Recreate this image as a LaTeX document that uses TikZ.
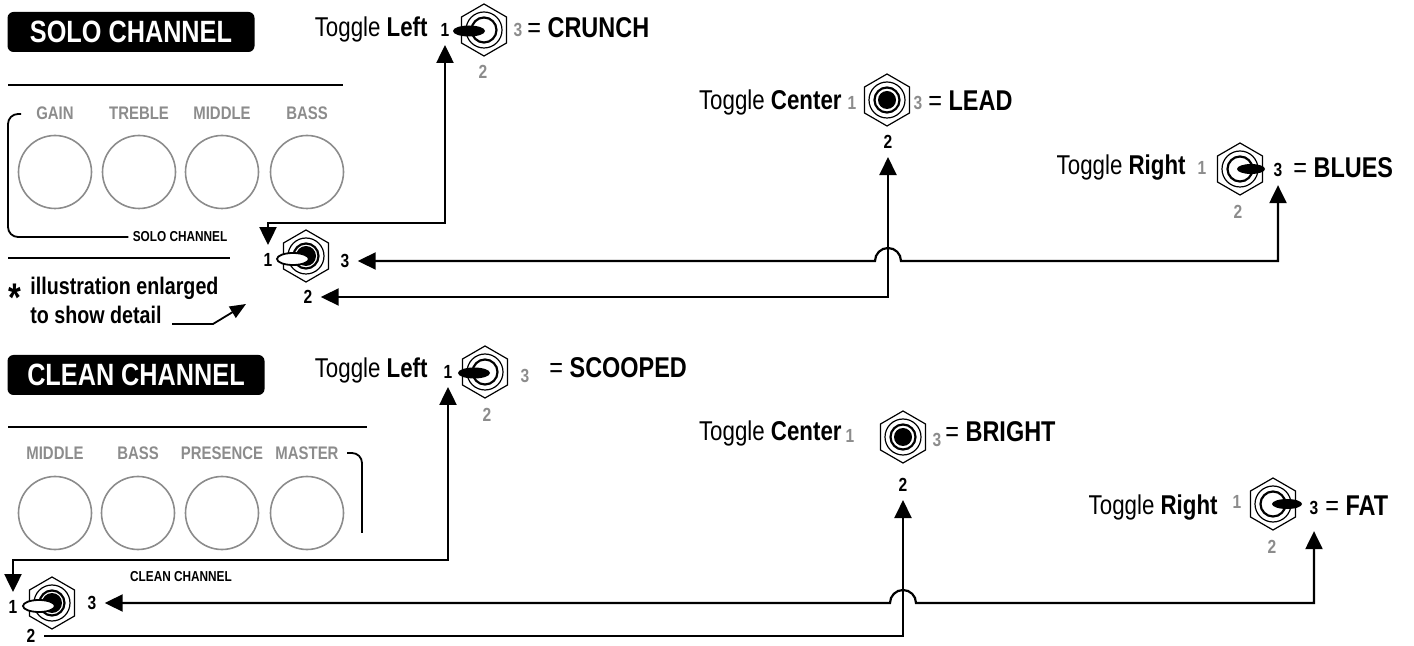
\documentclass[tikz,border=0pt]{standalone}
\usepackage{fontspec}
\setmainfont{Liberation Sans}[FakeStretch=0.82]
\usetikzlibrary{arrows.meta}
\definecolor{knobgray}{HTML}{8C8C8C}

\begin{document}
\begin{tikzpicture}[x=0.5pt,y=-0.5pt]
	    \tikzset{
			title/.style={fill=black, text=white, rounded corners=3pt, inner sep=0pt, minimum width=123.5pt, minimum height=20pt, font=\bfseries\fontsize{15.4}{15.4}\selectfont},
			knoblabel/.style={text=knobgray, inner sep=1pt, font=\bfseries\fontsize{9.1}{9.1}\selectfont},
			knob/.style={draw=knobgray, circle, line width=0.8pt, minimum size=36.5pt, inner sep=0pt},
			tag/.style={inner sep=2pt, font=\bfseries\fontsize{7.2}{7.2}\selectfont},
			toggle/.style={anchor=base east, inner sep=0pt, font=\fontsize{13.6}{13.6}\selectfont},
			result/.style={anchor=base west, inner sep=0pt, font=\fontsize{14.3}{14.3}\selectfont},
			note/.style={anchor=base west, inner sep=0pt, font=\bfseries\fontsize{12}{12}\selectfont},
			num/.style={inner sep=4pt, font=\bfseries\fontsize{9.5}{9.5}\selectfont},
			numg/.style={num, text=knobgray},
			rule/.style={line width=1.1pt},
			bracket/.style={line width=0.9pt, rounded corners=5pt},
			link/.style={line width=1.1pt, <->, >={Triangle[length=9pt,width=8.5pt]}},
			linkin/.style={link, <-},
			pointer/.style={line width=0.9pt, ->, >={Triangle[length=8pt,width=6.5pt]}}
	    }
	    \useasboundingbox (0,0) rectangle (1414,646);

	    % solo channel panel
	    \draw node[title] (soloTitle) at (131,32) {SOLO CHANNEL};
	    \draw[rule] (8,85) -- (343,85);
	    \foreach \x/\t [count=\i] in {55/GAIN,139/TREBLE,222/MIDDLE,307/BASS}{
	        \draw node[knoblabel] (sl\i) at (\x,113) {\t};
	        \draw node[knob] (sk\i) at (\x,172) {};
	    }
	    \draw node[tag] (soloTag) at (180,237) {SOLO CHANNEL};
	    \draw[bracket] (21,114) -- (8,114) -- (8,237) -- (soloTag.west);
	    \draw[rule] (8,258) -- (230,258);
	    \draw node[anchor=base, inner sep=0pt, font=\bfseries\fontsize{20}{20}\selectfont] (star) at (15,312) {*};
	    \draw node[note] (illus) at (30,295) {illustration enlarged};
	    \draw node[note] (detail) at (30,324) {to show detail};
	    \coordinate (enlarged) at (246,304);
	    \draw[pointer] ([xshift=5pt]detail.base east) -- ++(41,0) -- (enlarged);

	    % clean channel panel
	    \draw node[title, minimum width=128.5pt] (cleanTitle) at (136,375) {CLEAN CHANNEL};
	    \draw[rule] (8,427) -- (367,427);
	    \foreach \x/\t [count=\i] in {55/MIDDLE,138/BASS,222/PRESENCE,307/MASTER}{
	        \draw node[knoblabel] (cl\i) at (\x,453) {\t};
	        \draw node[knob] (ck\i) at (\x,513) {};
	    }
	    \draw[bracket] (347,453) -- (362,453) -- (362,533);
	    \draw node[tag] (cleanTag) at (181,577) {CLEAN CHANNEL};

	    % hex nuts
	    \foreach \x/\y in {484/30,887/100,1240/169,306/256,485/372,903/437,1273/504,52/603}{
	        \draw[line width=0.6pt] (\x,\y) ++(0,-26) -- ++(22.5,13) -- ++(0,26) -- ++(-22.5,13) -- ++(-22.5,-13) -- ++(0,-26) -- cycle;
	        \draw[line width=0.6pt] (\x,\y) circle[radius=18];
	        \draw[line width=1.1pt] (\x,\y) circle[radius=12.5];
	    }
	    % levers
	    \fill (469,31) ellipse[x radius=16, y radius=5.5];
	    \fill (887,100) circle[radius=9];
	    \fill (1251,169) ellipse[x radius=14, y radius=5];
	    \fill (474,373) ellipse[x radius=16, y radius=5.5];
	    \fill (903,437) circle[radius=9];
	    \fill (1287,504) ellipse[x radius=15, y radius=5];
	    \fill (306,256) circle[radius=10];
	    \filldraw[fill=white, line width=0.9pt] (293,259) ellipse[x radius=16, y radius=6];
	    \fill (52,603) circle[radius=10];
	    \filldraw[fill=white, line width=0.9pt] (39,606) ellipse[x radius=16, y radius=6];

	    % solo toggles
	    \draw node[toggle] (sLtext) at (428,37) {Toggle \textbf{Left}};
	    \draw node[num] (sL1) at (445,30) {1};
	    \draw node[numg] (sL3) at (518,30) {3};
	    \draw node[numg] (sL2) at (483,72) {2};
	    \draw node[result] (sLres) at (527,38) {= \textbf{CRUNCH}};

	    \draw node[toggle] (sCtext) at (842,110) {Toggle \textbf{Center}};
	    \draw node[numg] (sC1) at (852,103) {1};
	    \draw node[numg] (sC3) at (918,103) {3};
	    \draw node[num] (sC2) at (888,142) {2};
	    \draw node[result] (sCres) at (928,111) {= \textbf{LEAD}};

	    \draw node[toggle] (sRtext) at (1186,175) {Toggle \textbf{Right}};
	    \draw node[numg] (sR1) at (1202,168) {1};
	    \draw node[num] (sR3) at (1278,170) {3};
	    \draw node[numg] (sR2) at (1238,212) {2};
	    \draw node[result] (sRres) at (1293,178) {= \textbf{BLUES}};

	    \draw node[num] (s1) at (268,260) {1};
	    \draw node[num] (s3) at (345,261) {3};
	    \draw node[num] (s2) at (308,297) {2};

	    \draw[link] (sL1.south) -- (sL1.south |- 0,223) -| (s1.north);
	    \draw[link] (sC2.south) |- (s2.east);
	    \draw[link] (sR3.south) |- (s3.east -| 901,0) arc[start angle=0, end angle=-180, radius=13] -- (s3.east);

	    % clean toggles
	    \draw node[toggle] (cLtext) at (428,378) {Toggle \textbf{Left}};
	    \draw node[num] (cL1) at (448,372) {1};
	    \draw node[numg] (cL3) at (525,376) {3};
	    \draw node[numg] (cL2) at (487,415) {2};
	    \draw node[result] (cLres) at (549,378) {= \textbf{SCOOPED}};

	    \draw node[toggle] (cCtext) at (842,441) {Toggle \textbf{Center}};
	    \draw node[numg] (cC1) at (850,436) {1};
	    \draw node[numg] (cC3) at (937,440) {3};
	    \draw node[num] (cC2) at (903,485) {2};
	    \draw node[result] (cCres) at (945,442) {= \textbf{BRIGHT}};

	    \draw node[toggle] (cRtext) at (1218,515) {Toggle \textbf{Right}};
	    \draw node[numg] (cR1) at (1237,502) {1};
	    \draw node[num] (cR3) at (1314,508) {3};
	    \draw node[numg] (cR2) at (1272,547) {2};
	    \draw node[result] (cRres) at (1325,516) {= \textbf{FAT}};

	    \draw node[num] (c1) at (13,607) {1};
	    \draw node[num] (c3) at (92,603) {3};
	    \draw node[num] (c2) at (31,636) {2};

	    \draw[link] (cL1.south) -- (cL1.south |- 0,560) -| (c1.north);
	    \draw[linkin] (cC2.south) |- (c2.east);
	    \draw[link, shorten <=4pt] (cR3.south) |- (c3.east -| 916,0) arc[start angle=0, end angle=-180, radius=13] -- (c3.east);
\end{tikzpicture}
\end{document}
